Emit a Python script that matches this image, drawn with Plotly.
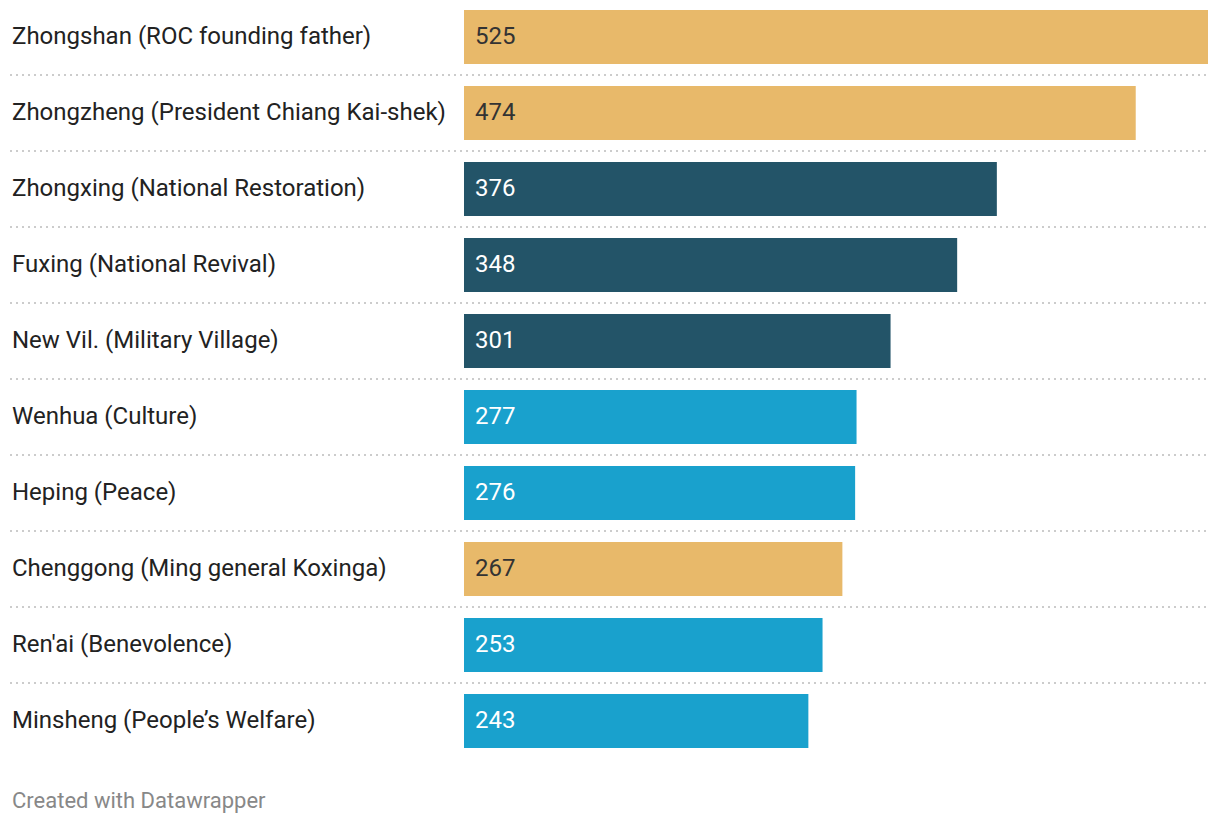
import plotly.graph_objects as go

categories = [
    "Zhongshan (ROC founding father)",
    "Zhongzheng (President Chiang Kai-shek)",
    "Zhongxing (National Restoration)",
    "Fuxing (National Revival)",
    "New Vil. (Military Village)",
    "Wenhua (Culture)",
    "Heping (Peace)",
    "Chenggong (Ming general Koxinga)",
    "Ren'ai (Benevolence)",
    "Minsheng (People\u2019s Welfare)",
]
values = [525, 474, 376, 348, 301, 277, 276, 267, 253, 243]
groups = ["person", "person", "nation", "nation", "nation", "virtue", "virtue", "person", "virtue", "virtue"]

group_colors = {"person": "#e8b96a", "nation": "#235468", "virtue": "#19a1cd"}
text_colors = {"person": "#333333", "nation": "#ffffff", "virtue": "#ffffff"}

# page has an 8px body margin; figure sized to fill the rest of the window
W, H = 1212, 816
ML, MR, MT, MB = 456, 12, 0, 65
plot_w = W - ML - MR
plot_h = H - MT - MB
pitch = 76.0
top_val = -29.0 / pitch

fig = go.Figure()
fig.add_trace(go.Bar(
    x=values, y=list(range(len(categories))), orientation="h",
    marker=dict(color=[group_colors[g] for g in groups], line=dict(width=0)),
    hoverinfo="skip",
))

font = "Roboto, Arial, sans-serif"
ann = []
for i, (c, v, g) in enumerate(zip(categories, values, groups)):
    ann.append(dict(x=0, y=i, xref="paper", yref="y", text=c, showarrow=False,
                    xanchor="left", yanchor="middle", xshift=-(ML - 2), yshift=1,
                    font=dict(family=font, size=24, color="#222222")))
    ann.append(dict(x=0, y=i, xref="x", yref="y", text=str(v), showarrow=False,
                    xanchor="left", yanchor="middle", xshift=9, yshift=1,
                    font=dict(family=font, size=24, color=text_colors[g])))
ann.append(dict(x=0, y=0, xref="paper", yref="paper", text="Created with Datawrapper",
                showarrow=False, xanchor="left", yanchor="middle",
                xshift=-(ML - 2), yshift=-41,
                font=dict(family=font, size=22, color="#888888")))

shapes = []
x0_paper = -(ML - 2) / plot_w
for i in range(len(categories) - 1):
    shapes.append(dict(type="line", xref="paper", yref="y", x0=x0_paper, x1=1,
                       y0=i + 0.5, y1=i + 0.5,
                       line=dict(color="#cccccc", width=2, dash="2px,4px"), layer="below"))

fig.update_layout(
    width=W, height=H,
    margin=dict(l=ML, r=MR, t=MT, b=MB, pad=0),
    paper_bgcolor="white", plot_bgcolor="white",
    bargap=22 / 76,
    showlegend=False,
    xaxis=dict(range=[0, 525], visible=False, fixedrange=True),
    yaxis=dict(range=[top_val + plot_h / pitch, top_val], visible=False, fixedrange=True),
    annotations=ann, shapes=shapes,
)

fig.write_html("out.html", config={"displayModeBar": False})
